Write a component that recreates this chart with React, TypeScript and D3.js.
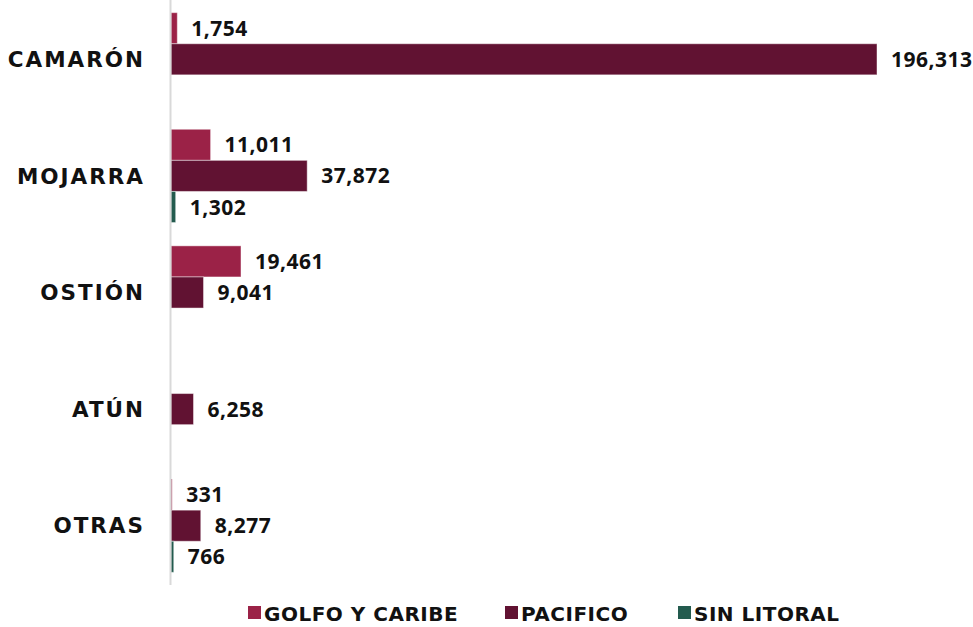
import React from "react";
import * as d3 from "d3";

const categories = ["CAMARÓN", "MOJARRA", "OSTIÓN", "ATÚN", "OTRAS"];
const seriesNames = ["GOLFO Y CARIBE", "PACIFICO", "SIN LITORAL"];
const golfoValues: (number | null)[] = [1754, 11011, 19461, null, 331];
const pacificoValues: (number | null)[] = [196313, 37872, 9041, 6258, 8277];
const sinLitoralValues: (number | null)[] = [null, 1302, null, null, 766];
const seriesColors = ["#9B2247", "#611232", "#235B4E"];

const W = 973;
const H = 627;
const NUM_FONT = "'Open Sans', sans-serif";
const CAP_FONT = "'DejaVu Sans', sans-serif";

export default function App() {
  const seriesValues = [golfoValues, pacificoValues, sinLitoralValues];
  const y = d3.scaleBand<string>().domain(categories).range([1, 584]).paddingInner(0.2).paddingOuter(0.1);
  const ySub = d3.scaleBand<string>().domain(seriesNames).range([0, y.bandwidth()]);
  const x = d3.scaleLinear().domain([0, 196313]).range([171, 877]);
  const fmt = d3.format(",");

  const legendX = [248, 505, 678];

  return (
    <div style={{ position: "absolute", left: 0, top: 0 }}>
      <svg width={W} height={H} style={{ display: "block", background: "#fff" }}>
        {categories.map((c, ci) => (
          <g key={c}>
            {seriesNames.map((s, si) => {
              const v = seriesValues[si][ci];
              if (v == null) return null;
              const y0 = (y(c) ?? 0) + (ySub(s) ?? 0);
              const h = ySub.bandwidth();
              const x1 = x(v);
              return (
                <g key={s}>
                  <rect x={x(0)} y={y0} width={Math.max(1, x1 - x(0))} height={h} fill={seriesColors[si]} stroke="rgba(255,255,255,0.45)" strokeWidth={1} />
                  <text x={x1 + 14} y={y0 + h / 2} dy="0.36em" fontFamily={NUM_FONT} fontWeight={700} fontSize={21} letterSpacing={0.5} fill="#111">
                    {fmt(v)}
                  </text>
                </g>
              );
            })}
            <text x={145} y={(y(c) ?? 0) + y.bandwidth() / 2} dy="0.36em" textAnchor="end" fontFamily={CAP_FONT} fontWeight={700} fontSize={21.5} letterSpacing={2} fill="#111">
              {c}
            </text>
          </g>
        ))}
        <line x1={170.5} x2={170.5} y1={0} y2={585} stroke="#d9d9d9" strokeWidth={2} />
        {seriesNames.map((s, si) => (
          <g key={s}>
            <rect x={legendX[si]} y={606} width={13} height={13} fill={seriesColors[si]} />
            <text x={legendX[si] + 16} y={621} fontFamily={CAP_FONT} fontWeight={700} fontSize={20} letterSpacing={0.5} fill="#111">
              {s}
            </text>
          </g>
        ))}
      </svg>
    </div>
  );
}
